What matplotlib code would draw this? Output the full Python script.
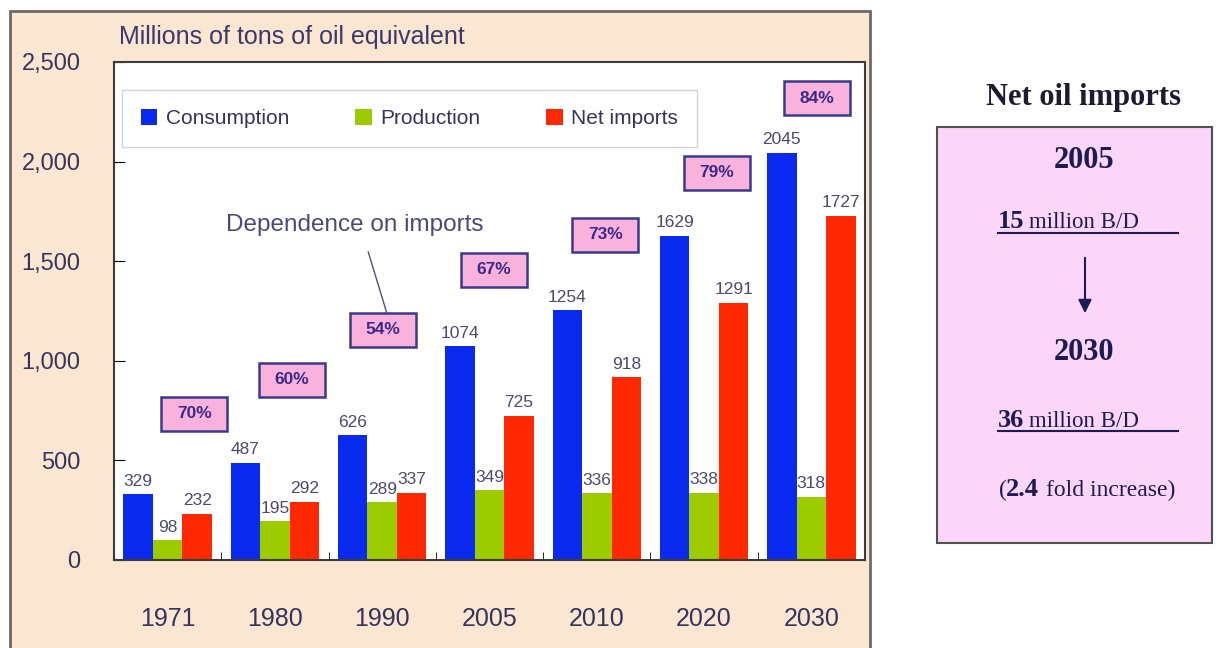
import matplotlib
matplotlib.use("Agg")
import matplotlib.pyplot as plt
from matplotlib.patches import Rectangle, FancyArrowPatch
from matplotlib.lines import Line2D
import numpy as np

# data
years = ['1971', '1980', '1990', '2005', '2010', '2020', '2030']
consumption = [329, 487, 626, 1074, 1254, 1629, 2045]
production = [98, 195, 289, 349, 336, 338, 318]
net_imports = [232, 292, 337, 725, 918, 1291, 1727]
dependence = ['70%', '60%', '54%', '67%', '73%', '79%', '84%']

# where the pink boxes sit (data coords)
box_x = [0.25, 1.16, 2.01, 3.04, 4.08, 5.12, 6.05]
box_y = [733, 904, 1155, 1456, 1632, 1943, 2319]

W, H = 1217, 648
def fx(px):
    return px / W
def fy(py):
    return 1 - py / H

sans = ['Liberation Sans', 'DejaVu Sans']
serif = ['Liberation Serif', 'DejaVu Serif']
txt = '#34345e'

fig = plt.figure(figsize=(12.17, 6.48), dpi=100)
fig.patch.set_facecolor('white')

# beige panel behind the chart
panel = Rectangle((fx(10), -0.02), fx(870) - fx(10), fy(11) + 0.02,
                  transform=fig.transFigure, facecolor='#fbe6d1', edgecolor='#6a6a6a',
                  lw=2, zorder=-2)
fig.patches.append(panel)

ax = fig.add_axes([fx(114), fy(560), (865 - 114) / W, (560 - 62) / H])
ax.set_facecolor('white')

x = np.arange(len(years))
w = 0.275
b1 = ax.bar(x - w, consumption, w, color='#0b2af0', label='Consumption')
b2 = ax.bar(x, production, w, color='#9ccc00', label='Production')
b3 = ax.bar(x + w, net_imports, w, color='#ff2800', label='Net imports')
for b in (b1, b2, b3):
    ax.bar_label(b, padding=4, fontsize=12.5, color='#4a4a72', family=sans)

ax.set_xlim(-0.5, 6.5)
ax.set_ylim(0, 2500)
ax.set_yticks(range(0, 2501, 500))
ax.set_yticklabels([f'{v:,}' for v in range(0, 2501, 500)], family=sans)
ax.tick_params(axis='y', direction='in', length=8, pad=24, labelsize=17, labelcolor=txt)
ax.set_xticks(x)
ax.set_xticklabels(years, family=sans)
ax.tick_params(axis='x', which='major', length=0, pad=34, labelsize=18, labelcolor=txt)
ax.set_xticks(x[:-1] + 0.5, minor=True)
ax.tick_params(axis='x', which='minor', direction='in', length=6)
for s in ax.spines.values():
    s.set_color('#3c3c3c')
    s.set_linewidth(1.5)

# dependence boxes
bw = 66 / ((865 - 114) / 7)
bh = 34 / (498 / 2500)
for s, bx, by in zip(dependence, box_x, box_y):
    ax.add_patch(Rectangle((bx - bw / 2, by - bh / 2), bw, bh, facecolor='#f8b2dc',
                           edgecolor='#3a3a8c', lw=1.8, zorder=4))
    ax.text(bx, by, s, ha='center', va='center', fontsize=12.5, weight='bold',
            color='#3a2a86', family=sans, zorder=5)

ax.text(1.74, 1682, 'Dependence on imports', ha='center', va='center', fontsize=17.5,
        color='#4a4a7a', family=sans)
ax.plot([1.87, 2.04], [1546, 1245], color='#505070', lw=1)

leg = ax.legend(loc='upper left', bbox_to_anchor=(0.0107, 0.944, 0.765, 0.0), mode='expand',
                ncol=3, borderaxespad=0, fancybox=False, edgecolor='#c8c8c8',
                handlelength=0.8, handleheight=0.8, handletextpad=0.4, borderpad=0.9,
                prop={'family': sans, 'size': 15}, labelcolor=txt)
leg.get_frame().set_linewidth(1)

fig.text(fx(119), fy(37), 'Millions of tons of oil equivalent', va='center', ha='left',
         fontsize=18, color='#3a3a6a', family=sans)

# right panel
fig.text(fx(1083), fy(97), 'Net oil imports', ha='center', va='center', fontsize=22,
         weight='bold', family=serif, color='#1c1c30')
fig.patches.append(Rectangle((fx(937), fy(543)), fx(1212) - fx(937), fy(127) - fy(543),
                             transform=fig.transFigure, facecolor='#fbd6f8',
                             edgecolor='#505050', lw=1.5, zorder=-1))
navy = '#1c1c52'
fig.text(fx(1084), fy(161), '2005', ha='center', va='center', fontsize=22, weight='bold',
         family=serif, color=navy)
fig.text(fx(1084), fy(353), '2030', ha='center', va='center', fontsize=22, weight='bold',
         family=serif, color=navy)
for num, base, ul in [('15', 228, 233), ('36', 427, 431)]:
    fig.text(fx(998), fy(base), num, ha='left', va='baseline', fontsize=19, weight='bold',
             family=serif, color=navy)
    fig.text(fx(1029), fy(base), 'million B/D', ha='left', va='baseline', fontsize=16.5,
             family=serif, color=navy)
    fig.add_artist(Line2D([fx(998), fx(1178)], [fy(ul), fy(ul)], color=navy, lw=1.5,
                          transform=fig.transFigure))
fig.add_artist(FancyArrowPatch((fx(1085), fy(255)), (fx(1085), fy(316)),
                               transform=fig.transFigure, arrowstyle='-|>',
                               mutation_scale=20, lw=1.5, color=navy, zorder=3))
fig.text(fx(999), fy(496), '(', ha='left', va='baseline', fontsize=17, family=serif, color=navy)
fig.text(fx(1006), fy(496), '2.4', ha='left', va='baseline', fontsize=19, weight='bold',
         family=serif, color=navy)
fig.text(fx(1046), fy(496), 'fold increase)', ha='left', va='baseline', fontsize=17,
         family=serif, color=navy)

fig.savefig('out.png', dpi=100)
